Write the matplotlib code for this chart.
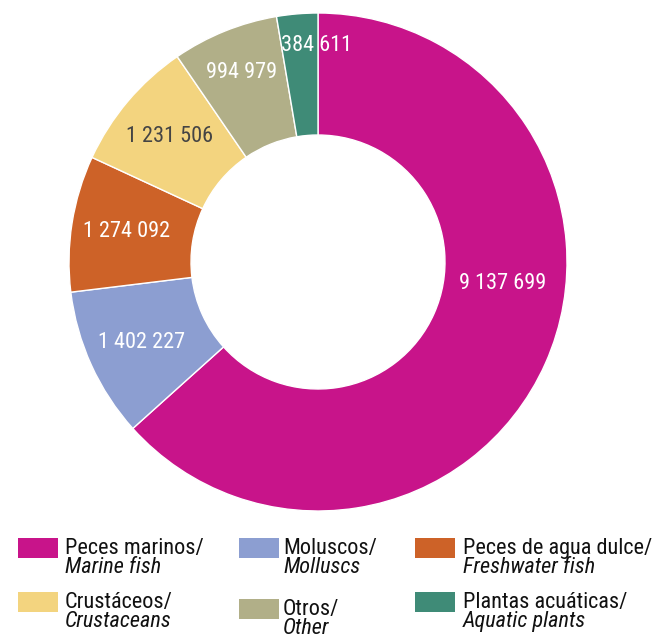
import matplotlib
matplotlib.use("Agg")
import matplotlib.pyplot as plt
from matplotlib.patches import Rectangle
import numpy as np

plt.rcParams['font.family'] = ['Roboto Condensed', 'DejaVu Sans']

categories_es = ["Peces marinos/", "Moluscos/", "Peces de agua dulce/",
                 "Crustáceos/", "Otros/", "Plantas acuáticas/"]
categories_en = ["Marine fish", "Molluscs", "Freshwater fish",
                 "Crustaceans", "Other", "Aquatic plants"]
values = [9137699, 1402227, 1274092, 1231506, 994979, 384611]
value_labels = ["9 137 699", "1 402 227", "1 274 092", "1 231 506", "994 979", "384 611"]
colors = ["#C8148A", "#8C9ED1", "#CD6228", "#F3D47F", "#B1AF88", "#3F8B77"]
label_colors = ["white", "white", "white", "#444444", "white", "white"]

W, H = 657, 640
fig = plt.figure(figsize=(W / 100, H / 100), dpi=100)

cx, cy, R = 318, 262, 249
ax = fig.add_axes([(cx - R) / W, 1 - (cy + R) / H, 2 * R / W, 2 * R / H])
wedges, _ = ax.pie(values, colors=colors, startangle=90, counterclock=False,
                   radius=1.0, wedgeprops=dict(width=0.49, edgecolor="white", linewidth=1.0))
ax.set_xlim(-1, 1)
ax.set_ylim(-1, 1)
ax.set_aspect("auto")
ax.axis("off")

# label placement: mid-angle of each wedge, with a few manual nudges (angle offset deg, radius)
nudges = {0: (17.5, 0.745), 5: (-4.5, 0.87), 4: (0, 0.82)}
for i, w in enumerate(wedges):
    ang = (w.theta1 + w.theta2) / 2
    r = 0.78
    if i in nudges:
        ang += nudges[i][0]
        r = nudges[i][1]
    x = r * np.cos(np.radians(ang))
    y = r * np.sin(np.radians(ang))
    ax.text(x, y, value_labels[i], ha="center", va="center", fontsize=16,
            color=label_colors[i])

# legend (manual layout, 3 columns x 2 rows)
col_sq_x = [18, 239, 415]
col_tx_x = [65, 283, 463]
row_top = [538, 592]
order = [(0, 0, 0), (1, 1, 0), (2, 2, 0), (3, 0, 1), (4, 1, 1), (5, 2, 1)]
for idx, col, row in order:
    top = row_top[row]
    if idx == 4:
        top += 7
    sq = Rectangle((col_sq_x[col] / W, 1 - (top + 20) / H), 40 / W, 20 / H,
                   transform=fig.transFigure, facecolor=colors[idx], edgecolor="none")
    fig.patches.append(sq)
    fig.text(col_tx_x[col] / W, 1 - (top + 16) / H, categories_es[idx],
             fontsize=16, color="#111111", ha="left", va="baseline")
    fig.text(col_tx_x[col] / W, 1 - (top + 35) / H, categories_en[idx],
             fontsize=16, color="#111111", ha="left", va="baseline", style="italic")

fig.savefig("out.png", dpi=100, facecolor="white")
